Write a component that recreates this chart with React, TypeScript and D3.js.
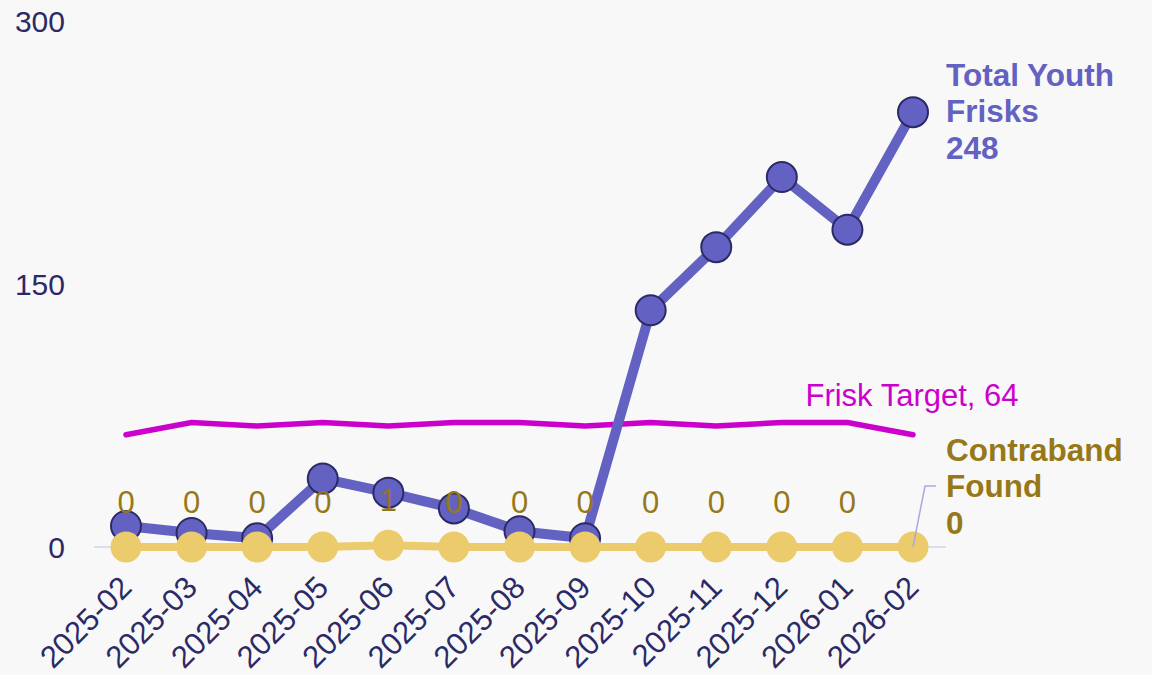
import React, { useEffect, useRef } from "react";
import * as d3 from "d3";

const months = [
  "2025-02", "2025-03", "2025-04", "2025-05", "2025-06", "2025-07", "2025-08",
  "2025-09", "2025-10", "2025-11", "2025-12", "2026-01", "2026-02",
];
const totalFrisks = [12, 8, 5, 39, 31, 22, 9, 5, 135, 171, 211, 181, 248];
const friskTarget = [64, 71, 69, 71, 69, 71, 71, 69, 71, 69, 71, 71, 64];
const contraband = [0, 0, 0, 0, 1, 0, 0, 0, 0, 0, 0, 0, 0];
const yTicks = [0, 150, 300];

const W = 1152;
const H = 675;
const FONT = "'Liberation Sans', Arial, sans-serif";

const App = () => {
  const svgRef = useRef<SVGSVGElement | null>(null);

  useEffect(() => {
    if (!svgRef.current) return;
    document.body.style.margin = "0";

    const svg = d3.select(svgRef.current);
    svg.selectAll("*").remove();

    svg.append("rect").attr("width", W).attr("height", H).attr("fill", "#f8f8f8");

    const x = d3.scalePoint<string>().domain(months).range([126, 913]);
    const y = d3.scaleLinear().domain([0, 300]).range([547, 21]);

    // zero baseline
    svg.append("line")
      .attr("x1", 94).attr("x2", 946)
      .attr("y1", y(0)).attr("y2", y(0))
      .attr("stroke", "#dcdcf2").attr("stroke-width", 2);

    // y tick labels
    svg.selectAll(".ytick")
      .data(yTicks)
      .enter()
      .append("text")
      .attr("x", 65)
      .attr("y", (d) => y(d))
      .attr("dy", "0.35em")
      .attr("text-anchor", "end")
      .attr("font-family", FONT)
      .attr("font-size", 30)
      .attr("fill", "#2b2a66")
      .text((d) => d);

    // x tick labels
    svg.selectAll(".xtick")
      .data(months)
      .enter()
      .append("text")
      .attr("transform", (d) => `translate(${(x(d) as number) - 8}, 574) rotate(-45)`)
      .attr("text-anchor", "end")
      .attr("dy", "0.7em")
      .attr("font-family", FONT)
      .attr("font-size", 31)
      .attr("fill", "#2b2a66")
      .text((d) => d);

    const line = (vals: number[]) =>
      d3.line<number>()
        .x((_, i) => x(months[i]) as number)
        .y((d) => y(d))(vals);

    // target line
    svg.append("path")
      .attr("d", line(friskTarget))
      .attr("fill", "none")
      .attr("stroke", "#cc00cc")
      .attr("stroke-width", 5.5)
      .attr("stroke-linecap", "round")
      .attr("stroke-linejoin", "round");

    // total frisks
    svg.append("path")
      .attr("d", line(totalFrisks))
      .attr("fill", "none")
      .attr("stroke", "#6361c2")
      .attr("stroke-width", 10)
      .attr("stroke-linejoin", "round");
    svg.selectAll(".fpt")
      .data(totalFrisks)
      .enter()
      .append("circle")
      .attr("cx", (_, i) => x(months[i]) as number)
      .attr("cy", (d) => y(d))
      .attr("r", 15)
      .attr("fill", "#6361c2")
      .attr("stroke", "#2b2a66")
      .attr("stroke-width", 2);

    // contraband
    svg.append("path")
      .attr("d", line(contraband))
      .attr("fill", "none")
      .attr("stroke", "#ebcb6b")
      .attr("stroke-width", 8);
    svg.selectAll(".cpt")
      .data(contraband)
      .enter()
      .append("circle")
      .attr("cx", (_, i) => x(months[i]) as number)
      .attr("cy", (d) => y(d))
      .attr("r", 15.5)
      .attr("fill", "#ebcb6b");

    // contraband value labels (all but last)
    svg.selectAll(".clab")
      .data(contraband.slice(0, -1))
      .enter()
      .append("text")
      .attr("x", (_, i) => x(months[i]) as number)
      .attr("y", (d) => y(d) - 34)
      .attr("text-anchor", "middle")
      .attr("font-family", FONT)
      .attr("font-size", 31)
      .attr("fill", "#977818")
      .text((d) => d);

    const last = months.length - 1;
    const lx = x(months[last]) as number;

    // Total Youth Frisks end label
    const tY = y(totalFrisks[last]);
    const tLab = svg.append("text")
      .attr("font-family", FONT)
      .attr("font-size", 31.5)
      .attr("font-weight", "bold")
      .attr("fill", "#6361c2");
    ["Total Youth", "Frisks", String(totalFrisks[last])].forEach((s, i) => {
      tLab.append("tspan").attr("x", lx + 33).attr("y", tY + 10 + (i - 1) * 36.5).text(s);
    });

    // Frisk target end label
    svg.append("text")
      .attr("x", lx - 1)
      .attr("y", y(friskTarget[last]) - 29)
      .attr("text-anchor", "middle")
      .attr("font-family", FONT)
      .attr("font-size", 31)
      .attr("fill", "#cc00cc")
      .text(`Frisk Target, ${friskTarget[last]}`);

    // Contraband end label with leader
    const cY = y(contraband[last]);
    const labMid = cY - 61;
    svg.append("path")
      .attr("d", `M${lx},${cY} L${lx + 12},${labMid} L${lx + 23},${labMid}`)
      .attr("fill", "none")
      .attr("stroke", "#a9a8e0")
      .attr("stroke-width", 1.5);
    const cLab = svg.append("text")
      .attr("font-family", FONT)
      .attr("font-size", 31.5)
      .attr("font-weight", "bold")
      .attr("fill", "#977818");
    ["Contraband", "Found", String(contraband[last])].forEach((s, i) => {
      cLab.append("tspan").attr("x", lx + 33).attr("y", labMid + 11 + (i - 1) * 36.5).text(s);
    });
  }, []);

  return (
    <svg
      ref={svgRef}
      width={W}
      height={H}
      style={{ position: "absolute", left: 0, top: 0, display: "block" }}
    />
  );
};

export default App;
